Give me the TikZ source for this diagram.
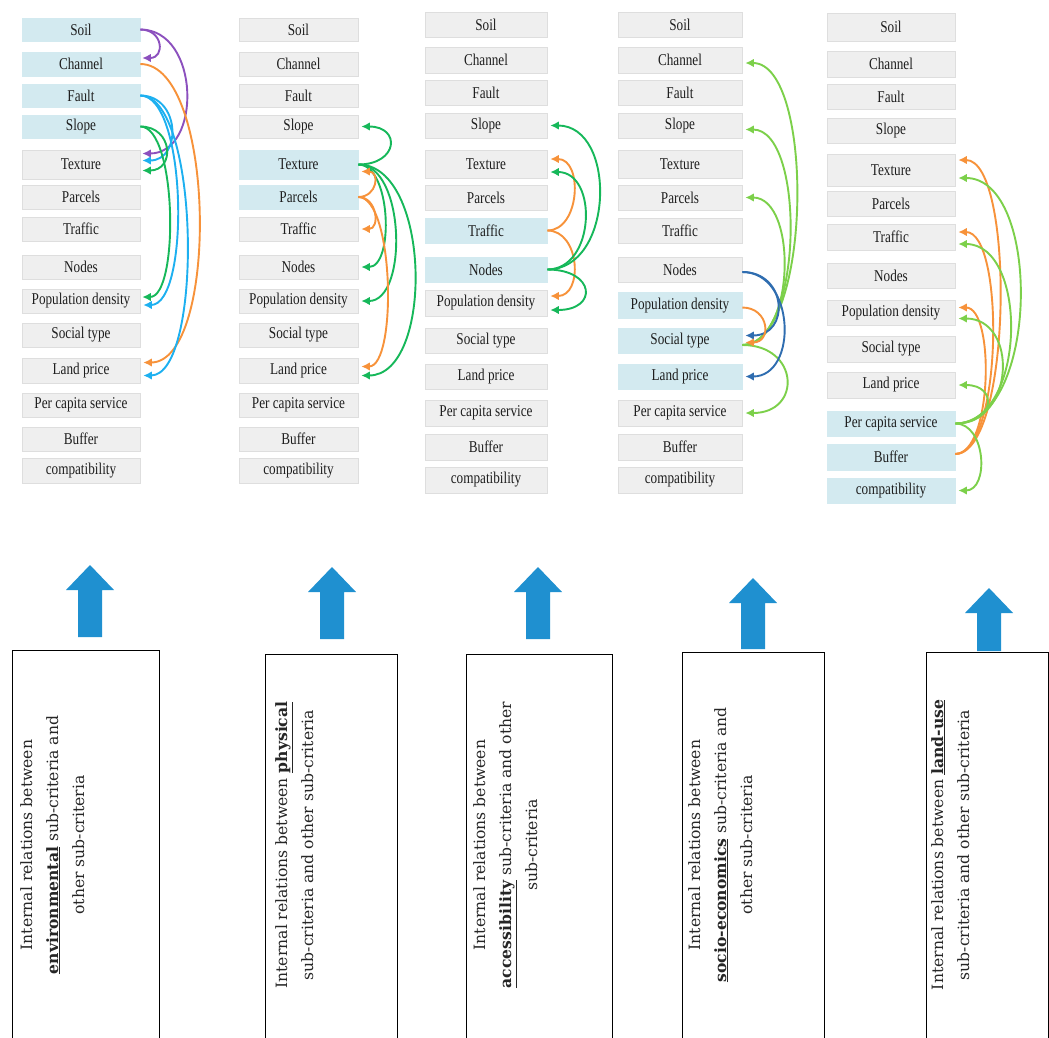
\documentclass[tikz,border=0pt]{standalone}
\usepackage{graphicx}
\usepackage{fontspec}
\setmainfont{Liberation Serif}
\newfontfamily\slab{DejaVu Serif}
\usetikzlibrary{arrows.meta}
\definecolor{boxgray}{RGB}{239,239,239}
\definecolor{boxline}{RGB}{222,222,222}
\definecolor{hlblue}{RGB}{211,234,240}
\definecolor{cpur}{RGB}{140,80,190}
\definecolor{corg}{RGB}{247,146,58}
\definecolor{ccyan}{RGB}{29,176,240}
\definecolor{cgrn}{RGB}{22,184,90}
\definecolor{clgrn}{RGB}{124,208,74}
\definecolor{cdblue}{RGB}{47,109,176}
\definecolor{arrowblue}{RGB}{31,144,208}
\definecolor{labtext}{RGB}{30,30,30}

\newcommand\sublist{soil/Soil,chan/Channel,fault/Fault,slope/Slope,text/Texture,parc/Parcels,traf/Traffic,nodes/Nodes,pop/Population density,soc/Social type,land/Land price,per/Per capita service,buf/Buffer,comp/compatibility}

\newcommand\mkcolumn[6]{%
  \foreach \key/\lab [count=\idx from 0] in \sublist {
    \pgfmathsetmacro\yy{{#4}[\idx]}
    \pgfmathsetmacro\hh{{#5}[\idx]}
    \pgfmathtruncatemacro\hl{{#6}[\idx]}
    \ifnum\hl=1 \def\fc{hlblue}\def\dc{hlblue}\else\def\fc{boxgray}\def\dc{boxline}\fi
    \node[cbox, fill=\fc, draw=\dc, minimum width=#3pt, minimum height=\hh pt] (#1\key) at (#2,\yy) {\scalebox{0.8}[1]{\lab}};
  }}

\newcommand\cc[4]{\draw[lk,#1] (#2) .. controls +(#4,0) and +(#4,0) .. (#3);}

\newcommand\uparr[5]{% #1 name, #2 x, #3 tip y, #4 head bottom y, #5 bottom y
  \coordinate (#1) at (#2,#3);
  \fill[arrowblue] (#1) -- ++(24,{#4-#3}) -- ++(-12,0) -- ({#2+12},#5) -- ({#2-12},#5)
    -- ({#2-12},#4) -- ({#2-24},#4) -- cycle;}

\tikzset{
  cbox/.style={rectangle, line width=0.6pt, inner sep=0pt, text=labtext,
    font=\fontsize{16.5}{16.5}\selectfont},
  lk/.style={line width=1.9pt, -{Latex[length=8.5pt,width=8.5pt]}},
  bigbox/.style={rectangle, draw=black, line width=1.1pt, fill=white, inner sep=0pt},
  btext/.style={rotate=90, anchor=north, align=center, inner sep=0pt, text=black!85,
    font=\slab\fontsize{15.6}{26}\selectfont}
}

\begin{document}
\begin{tikzpicture}[x=1pt,y=-1pt]
\useasboundingbox[fill=white] (0,0) rectangle (1049,1037);

% ---------- columns of sub-criteria ----------
\mkcolumn{a}{81}{118}{29.5,64,95.5,126.5,164.5,197,229,267,301,335,370.5,405,439,470.5}{23,24,23,23,29,24,24,24,24,24,25,24,24,25}{1,1,1,1,0,0,0,0,0,0,0,0,0,0}
\mkcolumn{b}{298.5}{119}{29.5,64,95.5,126.5,164.5,197,229,267,301,335,370.5,405,439,470.5}{23,24,23,23,29,24,24,24,24,24,25,24,24,25}{0,0,0,0,1,1,0,0,0,0,0,0,0,0}
\mkcolumn{c}{486}{122}{24.5,60,92.5,125.5,164,197.5,230.5,269.5,303,340.5,376.5,413,447,480}{25,26,25,25,28,25,25,25,26,25,25,26,26,26}{0,0,0,0,0,0,1,1,0,0,0,0,0,0}
\mkcolumn{d}{680}{124}{24.5,60,92.5,125.5,164,197.5,230.5,269.5,305.5,340.5,376.5,413,447,480}{25,26,25,25,28,25,25,25,26,25,25,26,26,26}{0,0,0,0,0,0,0,0,1,1,1,0,0,0}
\mkcolumn{e}{891}{128}{27,64,96.5,130.5,170,203.5,237,275.5,312.5,349,385,423.5,457,490.5}{28,26,25,25,32,25,26,25,25,26,26,25,26,25}{0,0,0,0,0,0,0,0,0,0,0,1,1,1}

% ---------- column 1: environmental ----------
\cc{cpur}{asoil.east}{[xshift=2pt,yshift=6pt]achan.east}{23}
\cc{cpur}{asoil.east}{[xshift=2pt,yshift=11pt]atext.east}{60}
\cc{corg}{achan.east}{[xshift=3pt,yshift=8pt]aland.east}{76}
\cc{ccyan}{afault.east}{[xshift=2pt,yshift=4pt]atext.east}{40}
\cc{ccyan}{afault.east}{[xshift=3pt,yshift=-4pt]apop.east}{47}
\cc{ccyan}{afault.east}{[xshift=3pt,yshift=-5pt]aland.east}{60}
\cc{cgrn}{aslope.east}{[xshift=2pt,yshift=-6pt]atext.east}{33}
\cc{cgrn}{aslope.east}{[xshift=2pt,yshift=4pt]apop.east}{37}

% ---------- column 2: physical ----------
\cc{cgrn}{btext.east}{[xshift=3pt]bslope.east}{40}
\cc{cgrn}{btext.east}{[xshift=3pt]bnodes.east}{33}
\cc{cgrn}{btext.east}{[xshift=3pt]bpop.east}{47}
\cc{cgrn}{btext.east}{[xshift=3pt,yshift=-5pt]bland.east}{73}
\cc{corg}{bparc.east}{[xshift=3pt,yshift=-7pt]btext.east}{19}
\cc{corg}{bparc.east}{[xshift=3pt]btraf.east}{19}
\cc{corg}{bparc.east}{[xshift=3pt,yshift=4pt]bland.east}{36}

% ---------- column 3: accessibility ----------
\cc{corg}{ctraf.east}{[xshift=3pt,yshift=5pt]ctext.east}{33}
\cc{corg}{ctraf.east}{[xshift=3pt,yshift=7pt]cpop.east}{33}
\cc{cgrn}{cnodes.east}{[xshift=3pt]cslope.east}{67}
\cc{cgrn}{cnodes.east}{[xshift=3pt,yshift=-8pt]ctext.east}{48}
\cc{cgrn}{cnodes.east}{[xshift=3pt,yshift=-7pt]cpop.east}{48}

% ---------- column 4: socio-economics ----------
\cc{clgrn}{[yshift=-4.5pt]dsoc.east}{[xshift=3pt,yshift=-3pt]dchan.east}{70}
\cc{clgrn}{[yshift=-4.5pt]dsoc.east}{[xshift=3pt,yshift=-4pt]dslope.east}{61}
\cc{clgrn}{[yshift=-4.5pt]dsoc.east}{[xshift=3pt]dparc.east}{53}
\cc{clgrn}{[yshift=-4.5pt]dsoc.east}{[xshift=3pt]dper.east}{57}
\cc{cdblue}{[yshift=-2.5pt]dnodes.east}{[xshift=3pt,yshift=5pt]dsoc.east}{45}
\cc{cdblue}{[yshift=-2.5pt]dnodes.east}{[xshift=3pt]dland.east}{53}
\cc{corg}{[yshift=-2pt]dpop.east}{[xshift=3pt,yshift=-2pt]dsoc.east}{27}

% ---------- column 5: land-use ----------
\cc{corg}{[yshift=3pt]ebuf.east}{[xshift=3pt,yshift=10pt]etext.east}{57}
\cc{corg}{[yshift=3pt]ebuf.east}{[xshift=3pt,yshift=5pt]etraf.east}{47}
\cc{corg}{[yshift=3pt]ebuf.east}{[xshift=3pt,yshift=5pt]epop.east}{37}
\cc{clgrn}{eper.east}{[xshift=3pt,yshift=-8pt]etext.east}{84}
\cc{clgrn}{eper.east}{[xshift=3pt,yshift=-7pt]etraf.east}{71}
\cc{clgrn}{eper.east}{[xshift=3pt,yshift=-6pt]epop.east}{60}
\cc{clgrn}{eper.east}{[xshift=3pt]eland.east}{40}
\cc{clgrn}{eper.east}{[xshift=3pt]ecomp.east}{31}

% ---------- bottom boxes ----------
\node[bigbox, minimum width=147pt, minimum height=400pt, anchor=north west] (box1) at (12,650) {};
\node[bigbox, minimum width=132pt, minimum height=400pt, anchor=north west] (box2) at (265,654) {};
\node[bigbox, minimum width=146pt, minimum height=400pt, anchor=north west] (box3) at (466,654) {};
\node[bigbox, minimum width=142pt, minimum height=400pt, anchor=north west] (box4) at (682,652) {};
\node[bigbox, minimum width=122pt, minimum height=400pt, anchor=north west] (box5) at (926,652) {};

\node[btext] (t1) at (20,845) {Internal relations between\\ \underline{\textbf{environmental}} sub-criteria and\\ other sub-criteria};
\node[btext] (t2) at (275,845) {Internal relations between \underline{\textbf{physical}}\\ sub-criteria and other sub-criteria};
\node[btext] (t3) at (473,845) {Internal relations between\\ \underline{\textbf{accessibility}} sub-criteria and other\\ sub-criteria};
\node[btext] (t4) at (688,845) {Internal relations between\\ \underline{\textbf{socio-economics}} sub-criteria and\\ other sub-criteria};
\node[btext] (t5) at (931,845) {Internal relations between \underline{\textbf{land-use}}\\ sub-criteria and other sub-criteria};

% ---------- block arrows ----------
\uparr{ar1}{90}{565}{590}{637}
\uparr{ar2}{332}{567}{592}{639}
\uparr{ar3}{538}{567}{592}{639}
\uparr{ar4}{753}{578}{603}{649}
\uparr{ar5}{989}{588}{613}{651}
\end{tikzpicture}
\end{document}
